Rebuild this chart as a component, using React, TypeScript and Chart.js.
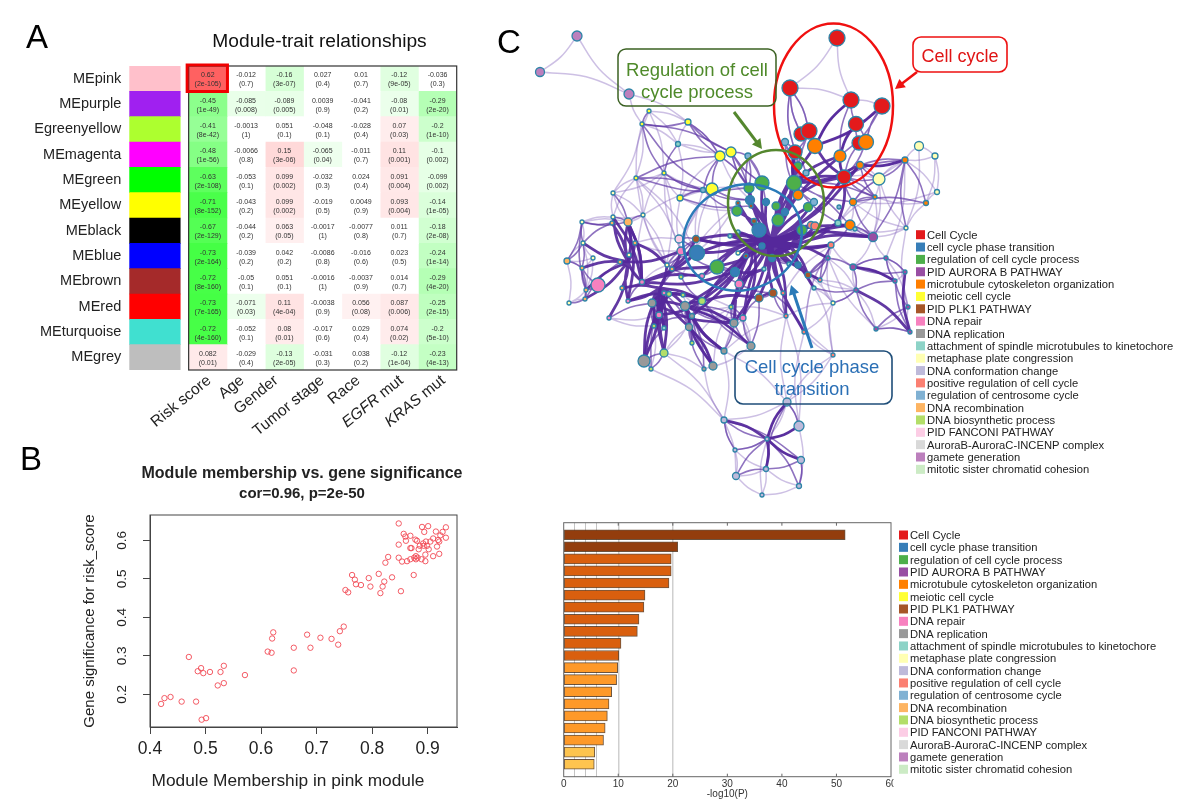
import React, { useEffect, useRef } from "react";
import { Chart, registerables } from "chart.js";

Chart.register(...registerables);

const FONT = '"Liberation Sans", Arial, sans-serif';

// ---------- Panel A data ----------
const modules = ["MEpink", "MEpurple", "Egreenyellow", "MEmagenta", "MEgreen", "MEyellow", "MEblack", "MEblue", "MEbrown", "MEred", "MEturquoise", "MEgrey"];
const moduleColors = ["#ffc0cb", "#a020f0", "#adff2f", "#ff00ff", "#00ff00", "#ffff00", "#000000", "#0000ff", "#a52a2a", "#ff0000", "#40e0d0", "#bebebe"];
const traits = ["Risk score", "Age", "Gender", "Tumor stage", "Race", "EGFR mut", "KRAS mut"];
const corrRows: string[][] = [
  ["0.62", "-0.012", "-0.16", "0.027", "0.01", "-0.12", "-0.036"],
  ["-0.45", "-0.085", "-0.089", "0.0039", "-0.041", "-0.08", "-0.29"],
  ["-0.41", "-0.0013", "0.051", "-0.048", "-0.028", "0.07", "-0.2"],
  ["-0.48", "-0.0066", "0.15", "-0.065", "-0.011", "0.11", "-0.1"],
  ["-0.63", "-0.053", "0.099", "-0.032", "0.024", "0.091", "-0.099"],
  ["-0.71", "-0.043", "0.099", "-0.019", "0.0049", "0.093", "-0.14"],
  ["-0.67", "-0.044", "0.063", "-0.0017", "-0.0077", "0.011", "-0.18"],
  ["-0.73", "-0.039", "0.042", "-0.0086", "-0.016", "0.023", "-0.24"],
  ["-0.72", "-0.05", "0.051", "-0.0016", "-0.0037", "0.014", "-0.29"],
  ["-0.73", "-0.071", "0.11", "-0.0038", "0.056", "0.087", "-0.25"],
  ["-0.72", "-0.052", "0.08", "-0.017", "0.029", "0.074", "-0.2"],
  ["0.082", "-0.029", "-0.13", "-0.031", "0.038", "-0.12", "-0.23"],
];
const pvalRows: string[][] = [
  ["2e-105", "0.7", "3e-07", "0.4", "0.7", "9e-05", "0.3"],
  ["1e-49", "0.008", "0.005", "0.9", "0.2", "0.01", "2e-20"],
  ["8e-42", "1", "0.1", "0.1", "0.4", "0.03", "1e-10"],
  ["1e-56", "0.8", "3e-06", "0.04", "0.7", "0.001", "0.002"],
  ["2e-108", "0.1", "0.002", "0.3", "0.4", "0.004", "0.002"],
  ["8e-152", "0.2", "0.002", "0.5", "0.9", "0.004", "1e-05"],
  ["2e-129", "0.2", "0.05", "1", "0.8", "0.7", "2e-08"],
  ["2e-164", "0.2", "0.2", "0.8", "0.6", "0.5", "1e-14"],
  ["8e-160", "0.1", "0.1", "1", "0.9", "0.7", "4e-20"],
  ["7e-165", "0.03", "4e-04", "0.9", "0.08", "0.006", "2e-15"],
  ["4e-160", "0.1", "0.01", "0.6", "0.4", "0.02", "5e-10"],
  ["0.01", "0.4", "2e-05", "0.3", "0.2", "1e-04", "4e-13"],
];

// ---------- Panel B data ----------
const membership = [0.42,0.426,0.437,0.457,0.483,0.493,0.501,0.47,0.492,0.486,0.496,0.508,0.527,0.533,0.522,0.533,0.571,0.612,0.619,0.62,0.622,0.659,0.659,0.683,0.689,0.707,0.727,0.739,0.742,0.749,0.752,0.757,0.764,0.769,0.771,0.78,0.794,0.797,0.812,0.815,0.819,0.822,0.824,0.829,0.836,0.852,0.875,0.848,0.848,0.848,0.854,0.857,0.86,0.861,0.863,0.869,0.869,0.869,0.871,0.876,0.878,0.879,0.879,0.881,0.882,0.884,0.886,0.889,0.89,0.892,0.893,0.894,0.896,0.896,0.897,0.899,0.901,0.902,0.905,0.91,0.91,0.915,0.917,0.919,0.921,0.921,0.923,0.927,0.933,0.933];
const significance = [0.175,0.19,0.193,0.181,0.181,0.134,0.138,0.297,0.268,0.26,0.255,0.258,0.258,0.274,0.223,0.229,0.25,0.311,0.308,0.345,0.361,0.321,0.262,0.355,0.321,0.347,0.344,0.329,0.364,0.376,0.471,0.465,0.51,0.498,0.486,0.484,0.502,0.48,0.513,0.463,0.48,0.493,0.542,0.557,0.504,0.468,0.51,0.644,0.589,0.555,0.545,0.617,0.61,0.599,0.546,0.612,0.551,0.58,0.58,0.555,0.602,0.559,0.551,0.599,0.555,0.577,0.586,0.551,0.635,0.592,0.586,0.622,0.563,0.546,0.597,0.586,0.637,0.577,0.597,0.605,0.559,0.623,0.584,0.601,0.597,0.565,0.613,0.622,0.634,0.607];

// ---------- Panel C data ----------
const termNames = ["Cell Cycle", "cell cycle phase transition", "regulation of cell cycle process", "PID AURORA B PATHWAY", "microtubule cytoskeleton organization", "meiotic cell cycle", "PID PLK1 PATHWAY", "DNA repair", "DNA replication", "attachment of spindle microtubules to kinetochore", "metaphase plate congression", "DNA conformation change", "positive regulation of cell cycle", "regulation of centrosome cycle", "DNA recombination", "DNA biosynthetic process", "PID FANCONI PATHWAY", "AuroraB-AuroraC-INCENP complex", "gamete generation", "mitotic sister chromatid cohesion"];
const termColors = ["#e31a1c", "#377eb8", "#4daf4a", "#984ea3", "#ff7f00", "#ffff33", "#a65628", "#f781bf", "#999999", "#8dd3c7", "#ffffb3", "#bebada", "#fb8072", "#80b1d3", "#fdb462", "#b3de69", "#fccde5", "#d9d9d9", "#bc80bd", "#ccebc5"];
const barValues = [51.6, 20.9, 19.7, 19.7, 19.3, 14.9, 14.7, 13.8, 13.5, 10.5, 10.1, 9.9, 9.7, 8.8, 8.3, 8.0, 7.6, 7.3, 5.7, 5.6];
const barColors = ["#933d0d", "#933d0d", "#d95f0e", "#d95f0e", "#d95f0e", "#d95f0e", "#d95f0e", "#d95f0e", "#d95f0e", "#d95f0e", "#d95f0e", "#fe9929", "#fe9929", "#fe9929", "#fe9929", "#fe9929", "#fe9929", "#fe9929", "#fec44f", "#fec44f"];

// network layout: [x, y, radius, term]
const nodes: number[][] = [
  [577,36,5,18],[540,72,4.5,18],[629,94,5,18],[837,38,8,0],[790,88,8,0],[851,100,8,0],[882,106,8,0],[856,124,7.5,0],[801,134,7,0],[809,131,8,0],
  [795,152,7,0],[859,143,7,0],[844,177,7,0],[815,146,7.5,4],[866,142,7.5,4],[840,156,6,4],[860,165,3.5,4],[798,195,5,4],[720,156,5,5],[731,152,5,5],
  [712,189,6,5],[688,122,3,5],[680,198,3,5],[649,111,2,5],[642,124,2,5],[678,144,2.5,9],[664,173,2,5],[636,178,2,5],[748,156,3,13],[785,142,3.5,13],
  [703,190,2.5,13],[762,183,7,2],[794,183,7.5,2],[749,188,5,2],[737,211,5,2],[778,220,6,2],[776,206,4,2],[808,207,4.5,2],[802,230,5,2],[798,166,4,2],
  [750,200,4.5,1],[766,202,3.5,1],[785,212,3.5,1],[759,230,7,1],[762,246,3,1],[806,173,3,13],[814,202,3.5,13],[738,203,2,6],[751,206,2,6],[754,221,2.5,6],
  [696,239,3.5,6],[811,225,3.5,12],[815,226,4,12],[679,239,4,16],[838,223,3,9],[850,225,5,4],[853,202,3.5,4],[875,197,2,4],[905,160,3,4],[926,203,2.5,4],
  [879,179,6,10],[919,146,4.5,10],[935,156,3,10],[937,192,2.5,10],[906,228,2,10],[873,237,4.5,3],[831,245,3,12],[828,258,2,3],[853,267,3,3],[886,258,2,3],
  [905,272,2,3],[895,281,2,3],[856,290,2,3],[833,303,2,10],[908,307,2,3],[876,329,2,3],[910,332,2,3],[808,275,3,6],[820,280,2,12],[798,265,3,1],
  [789,264,2,9],[814,288,2,9],[783,293,2,12],[786,316,2,12],[804,332,2,12],[833,355,2,12],[697,253,7.5,1],[717,267,7,2],[735,272,4.5,1],[739,284,4,7],
  [598,285,7,7],[759,298,4,6],[773,293,4,6],[764,269,2,9],[772,258,3.5,1],[567,261,3,14],[582,268,2,14],[593,258,2,10],[586,290,2,14],[585,299,2,14],
  [569,303,2,10],[609,318,2,7],[628,301,2,7],[622,288,2,14],[642,282,2.5,7],[664,293,2,7],[669,294,2.5,15],[683,295,2,15],[702,301,3.5,15],[652,303,4,8],
  [685,306,4.5,8],[659,315,3,7],[692,316,2.5,8],[654,326,2,15],[664,328,2,9],[689,327,3.5,8],[731,307,2,15],[734,323,4,8],[743,318,3,7],[751,346,4,8],
  [724,351,3,8],[692,343,2,15],[664,353,4,15],[644,361,6,8],[651,369,2,15],[704,369,2,8],[713,366,4,8],[787,402,4,11],[799,426,5,11],[724,420,3,11],
  [767,439,2,11],[735,450,2,11],[801,460,3.5,11],[766,469,2.5,11],[736,476,3.5,11],[799,486,2.5,11],[762,495,2,11],[613,193,2,10],[582,222,2,10],[613,217,2,10],
  [612,223,2,14],[628,222,4,14],[643,215,2,10],[583,243,2,10],[635,243,2,14],[629,255,2,10],[620,262,2,14],[667,265,2,10],[672,269,2,14],[681,277,2,15],
  [681,251,4,7],[702,276,2.5,7],[738,253,2,10],[746,256,2,6],[730,236,2,9],[738,232,2,9],[855,229,2,9],[839,207,2,13],
  [771,241,0,1],[755,240,0,1],[790,246,0,1],[660,288,0,1],[628,262,0,1],
];
// each row: first node joined to all the others
const lightStars: number[][] = [
  [0,1,2],[1,2],[2,21,24],[3,4,5],[4,5,8,9,10],[5,6,13],[6,7,14],[21,18,23,25],[23,24,26,27],[24,25,27,137],[25,19,18,22,23],[26,20,27,30,22,142],[27,142,139,137],[137,139,141,142],
  [58,61,62,63,60],[61,62,64],[62,63,59],[60,57,64,65],[63,59,56],[64,59,65,74],[65,68,69,55],[66,67,68,84],[67,72,75,73],[68,69,72,71],[69,70,71,74],[70,71,74,76],[72,75,73],[74,76,75],[73,84,85,83],[75,76],[85,84,127],
  [83,127,128],[84,128],[120,129,127],[125,129,119],[124,129],[122,129,125],[129,127,131,134],[127,128,130,85],[128,135],[130,131,136],[131,134,133],[132,135],[133,136,134,135],[134,136],[135,136],
  [138,143,139,141],[143,95,97,98],[95,96,97,100],[97,96,98],[100,98,99],[142,141,139],[101,111,113],[110,115,121],[112,121,120],[116,119,117,126],[113,123,124],[118,119,120],[104,147,148],[107,117,116],
  [26,150,147,137],[20,150,86,30],[18,40,33,22],[19,31,33],[22,34,33,150],[20,87,142],[47,148,149],[66,82,84],[85,77,82],[73,81],[60,16,12],[58,54,69],[56,55,64],[57,59,156],[156,65,64],
  [27,86,147,150],[142,104,148,147],[144,150,53],[116,117,83],[110,116,118],[121,116,107],[122,115,112],[147,87,149],[30,53,86],[120,116,83],[54,156,57],[72,77,78],[73,77,78],[65,57,54],
];
const midStars: number[][] = [
  [4,8,9,10],[5,7,13,15],[6,7,13,14,15],[7,11,14,15],[9,10,13,17],[10,39,32,17,45],[12,14,16,15,11,57,60,56],[16,58,60],[58,65,59,64],[60,58,56],[55,54,66,65],[56,59,57],[32,46,45,54,55,56,57],[29,10,39,32,17],
  [18,20,21,33,30],[19,28,31,33,40],[28,33,31,40,41],[21,24,18,19],[24,23,19,20,26],[27,33,18,30],[26,25,30],[20,22,40],[30,34,40],[22,48],
  [67,78,77,68,66],[68,71,70,69],[72,71,81,73,68],[69,71,70],[75,76,74,72],[76,71],[74,71],
  [130,134,135,133,127,128,132,131,129],[127,133,128],[129,132,131],[134,133],[132,133,135],
  [123,122,124,114],[115,126,125,121],[117,119,120,118],[110,119,126],[112,125,126],[118,116,91,110],[121,115],[120,115],[113,112],
  [141,138,137,139,142],[138,140,95,98],[143,140,96,138],[96,98,99,90],[98,99,90],[99,100,146],[95,96,143],
  [147,148,150,50,86],[53,86,50],[150,86,88],[87,88,89],[94,77,79,80],[92,91,89],[83,92,82],[84,92],
  [109,101,113,111],[115,112,110,105],[117,108,110,116],[119,108,91,118],[111,105,106],[124,122,105],[108,110,112,149],[151,149,148,87],[104,102,103,146],
  [65,52,56,55],[77,81,78,67],[58,16,12],[57,12,16],[66,77,78],[161,86,50,148],
];
const darkStars: number[][] = [
  [158,31,32,33,34,35,36,37,38,39,40,41,42,43,44,10,15,17,45,46,47,48,49,50,51,54,55,65,86,87,88,89,91,92,93,94,77,78,79,80,81,82,83,84,152,153,154,155,66,67,12,13,16,116,117,118,108],
  [159,43,44,158,50,154,155,87,49,86,88,152,153,108,116,118,117,110,112,89,151],
  [160,158,38,51,52,66,65,55,54,94,79,77,44],
  [161,102,104,105,106,107,108,109,110,111,113,114,115,122,123,103,148,147],
  [162,96,141,144,145,146,140,139,104,103,102,101,143,98,99],
  [106,102,107],[107,108],[108,91],[91,92],[146,150],[148,150,50],[50,158],[141,102,104],[139,104],[144,147],
  [12,13,15,16,32],[5,13],[6,13],[10,32],[17,32,12],[32,15,16],[16,58],[7,15],[54,12],
  [130,133,132,128,127],[129,130],[111,114,113],[110,115,126],[115,126],[110,117,119,120],[112,120],[109,110,117],[76,72],[70,76],[68,71],[93,89,88],
  [123,106,161],[122,105,161],[114,105],[113,105,109],[104,87,88,86,151],[108,110,111],[105,109,111],[141,104,162],
];
const coreStars: number[][] = [
  [158,159,160,43,44,38,94],[159,160,44],[160,44,94],
];
const traitLabelEnds = [212, 245, 279, 325, 361, 404, 446];

function put(ctx: any, text: string, x: number, y: number, font: string, color: string, align = "left", rot = 0) {
  ctx.save();
  ctx.font = font;
  ctx.fillStyle = color;
  ctx.textAlign = align;
  ctx.textBaseline = "alphabetic";
  ctx.translate(x, y);
  if (rot) ctx.rotate(rot);
  ctx.fillText(text, 0, 0);
  ctx.restore();
}

function heatColor(v: number) {
  const a = Math.abs(v);
  if (a < 0.054) return "#ffffff";
  const c = Math.round(255 * (1 - a));
  return v < 0 ? `rgb(${c},255,${c})` : `rgb(255,${c},${c})`;
}

function drawTermLegend(ctx: any, x: number, y0: number, step: number) {
  termNames.forEach((name, i) => {
    const y = y0 + i * step;
    ctx.fillStyle = termColors[i];
    ctx.fillRect(x, y - 4.5, 9, 9);
    put(ctx, name, x + 11, y + 4, `11.2px ${FONT}`, "#222", "left");
  });
}

function arrow(ctx: any, x0: number, y0: number, x1: number, y1: number, color: string, w: number) {
  const ang = Math.atan2(y1 - y0, x1 - x0);
  const h = 11;
  ctx.save();
  ctx.strokeStyle = color;
  ctx.fillStyle = color;
  ctx.lineWidth = w;
  ctx.beginPath();
  ctx.moveTo(x0, y0);
  ctx.lineTo(x1 - Math.cos(ang) * h * 0.7, y1 - Math.sin(ang) * h * 0.7);
  ctx.stroke();
  ctx.beginPath();
  ctx.moveTo(x1, y1);
  ctx.lineTo(x1 - h * Math.cos(ang - 0.5), y1 - h * Math.sin(ang - 0.5));
  ctx.lineTo(x1 - h * Math.cos(ang + 0.5), y1 - h * Math.sin(ang + 0.5));
  ctx.closePath();
  ctx.fill();
  ctx.restore();
}

function roundBox(ctx: any, x: number, y: number, w: number, h: number, color: string, lw: number) {
  ctx.save();
  ctx.strokeStyle = color;
  ctx.lineWidth = lw;
  ctx.beginPath();
  ctx.roundRect(x, y, w, h, 8);
  ctx.stroke();
  ctx.restore();
}

function ring(ctx: any, cx: number, cy: number, rx: number, ry: number, rot: number, color: string, lw: number) {
  ctx.save();
  ctx.strokeStyle = color;
  ctx.lineWidth = lw;
  ctx.beginPath();
  ctx.ellipse(cx, cy, rx, ry, rot, 0, Math.PI * 2);
  ctx.stroke();
  ctx.restore();
}

function edgeDataset(star: number[], color: string, width: number, order: number) {
  const pts: any[] = [];
  const [hub, ...rest] = star;
  rest.forEach((t) => {
    const a = nodes[hub];
    const b = nodes[t];
    const sign = (hub * 3 + t) % 2 === 0 ? 1 : -1;
    const bend = 0.07 * sign;
    pts.push({ x: a[0], y: a[1] });
    pts.push({ x: (a[0] + b[0]) / 2 - (b[1] - a[1]) * bend, y: (a[1] + b[1]) / 2 + (b[0] - a[0]) * bend });
    pts.push({ x: b[0], y: b[1] });
    pts.push({ x: NaN, y: NaN });
  });
  return { data: pts, showLine: true, borderColor: color, borderWidth: width, pointRadius: 0, tension: 0.4, order, spanGaps: false };
}

export default function App() {
  const heatRef = useRef<HTMLCanvasElement>(null);
  const scatterRef = useRef<HTMLCanvasElement>(null);
  const netRef = useRef<HTMLCanvasElement>(null);
  const barRef = useRef<HTMLCanvasElement>(null);

  useEffect(() => {
    document.body.style.margin = "0";
    document.body.style.background = "#fff";
    const charts: Chart[] = [];

    // ---------- A: heat map as stacked horizontal bars ----------
    const heatDatasets: any[] = [
      { label: "module", data: modules.map(() => 1.33), backgroundColor: moduleColors },
      { label: "gap", data: modules.map(() => 0.22), backgroundColor: "rgba(0,0,0,0)" },
      ...traits.map((t, c) => ({
        label: t,
        data: modules.map(() => 1),
        backgroundColor: corrRows.map((r) => heatColor(parseFloat(r[c]))),
      })),
    ];
    charts.push(
      new Chart(heatRef.current!, {
        type: "bar",
        data: { labels: modules, datasets: heatDatasets },
        options: {
          animation: false,
          responsive: false,
          indexAxis: "y",
          layout: { padding: { top: 66, bottom: 80, right: 13.3, left: 0 } },
          datasets: { bar: { barPercentage: 1, categoryPercentage: 1, borderWidth: 0 } },
          plugins: { legend: { display: false }, tooltip: { enabled: false } },
          scales: {
            x: { stacked: true, min: 0, max: 8.55, display: false },
            y: {
              stacked: true,
              grid: { display: false, drawTicks: false },
              border: { display: false },
              afterFit: (s: any) => { s.width = 129.3; },
              ticks: { font: { size: 14.5, family: FONT }, color: "#222", padding: 8, autoSkip: false },
            },
          },
        } as any,
        plugins: [
          {
            id: "heatOverlay",
            afterDatasetsDraw(chart: any) {
              const ctx = chart.ctx;
              const first = chart.getDatasetMeta(2).data;
              const last = chart.getDatasetMeta(8).data;
              traits.forEach((_t, c) => {
                const bars = chart.getDatasetMeta(c + 2).data;
                bars.forEach((bar: any, r: number) => {
                  const cx = bar.base + (bar.x - bar.base) / 2;
                  put(ctx, corrRows[r][c], cx, bar.y - 1.5, `7px ${FONT}`, "#333", "center");
                  put(ctx, `(${pvalRows[r][c]})`, cx, bar.y + 7.5, `7px ${FONT}`, "#333", "center");
                });
              });
              const left = first[0].base;
              const right = last[0].x;
              const { top, bottom } = chart.chartArea;
              ctx.save();
              ctx.strokeStyle = "#333";
              ctx.lineWidth = 1.2;
              ctx.strokeRect(left, top, right - left, bottom - top);
              const b = first[0];
              ctx.strokeStyle = "#f00000";
              ctx.lineWidth = 3;
              ctx.strokeRect(b.base - 1.5, top - 1, b.x - b.base + 2, 26.5);
              ctx.restore();
              // trait labels
              const tilt = -0.68;
              traits.forEach((t, c) => {
                const y = bottom + 12;
                ctx.save();
                ctx.translate(traitLabelEnds[c], y);
                ctx.rotate(tilt);
                ctx.textAlign = "right";
                ctx.textBaseline = "alphabetic";
                ctx.fillStyle = "#222";
                const font = `15.5px ${FONT}`;
                if (t.includes(" mut")) {
                  const tail = " mut";
                  const head = t.replace(tail, "");
                  ctx.font = font;
                  const tw = ctx.measureText(tail).width;
                  ctx.fillText(tail, 0, 0);
                  ctx.font = `italic ${font}`;
                  ctx.fillText(head, -tw, 0);
                } else {
                  ctx.font = font;
                  ctx.fillText(t, 0, 0);
                }
                ctx.restore();
              });
              put(ctx, "Module-trait relationships", 319.5, 47, `19.2px ${FONT}`, "#111", "center");
              put(ctx, "A", 26, 48, `33px ${FONT}`, "#000");
            },
          },
        ],
      })
    );

    // ---------- B: scatter ----------
    charts.push(
      new Chart(scatterRef.current!, {
        type: "scatter",
        data: {
          datasets: [
            {
              label: "pink module",
              data: membership.map((m, i) => ({ x: m, y: significance[i] })),
              pointRadius: 2.7,
              pointBorderWidth: 0.9,
              pointBorderColor: "#f24a55",
              pointBackgroundColor: "rgba(0,0,0,0)",
            },
          ],
        },
        options: {
          animation: false,
          responsive: false,
          layout: { autoPadding: false, padding: { left: 81, top: 75, right: 13, bottom: 0 } },
          plugins: { legend: { display: false }, tooltip: { enabled: false } },
          scales: {
            x: {
              type: "linear",
              min: 0.4,
              max: 0.953,
              afterFit: (s: any) => { s.height = 78; },
              afterBuildTicks: (s: any) => { s.ticks = [0.4, 0.5, 0.6, 0.7, 0.8, 0.9].map((value) => ({ value })); },
              grid: { drawOnChartArea: false, tickLength: 7, color: "#444" },
              border: { color: "#444" },
              ticks: { font: { size: 17.5, family: FONT }, color: "#222", padding: 5, maxRotation: 0, callback: (v: any) => Number(v).toFixed(1) },
            },
            y: {
              min: 0.115,
              max: 0.666,
              afterFit: (s: any) => { s.width = 69; },
              afterBuildTicks: (s: any) => { s.ticks = [0.2, 0.3, 0.4, 0.5, 0.6].map((value) => ({ value })); },
              grid: { drawOnChartArea: false, tickLength: 7, color: "#444" },
              border: { color: "#444" },
              title: { display: true, text: "Gene significance for risk_score", font: { size: 15, family: FONT }, color: "#222", padding: { top: 0, bottom: 0 } },
              ticks: { font: { size: 13.5, family: FONT }, color: "#222", padding: 11, minRotation: 90, maxRotation: 90, crossAlign: "center", callback: (v: any) => Number(v).toFixed(1) },
            },
          },
        } as any,
        plugins: [
          {
            id: "scatterOverlay",
            afterDraw(chart: any) {
              const ctx = chart.ctx;
              const a = chart.chartArea;
              ctx.save();
              ctx.strokeStyle = "#444";
              ctx.lineWidth = 1;
              ctx.strokeRect(a.left, a.top, a.right - a.left, a.bottom - a.top);
              ctx.restore();
              put(ctx, "B", 20, 30, `33px ${FONT}`, "#000");
              put(ctx, "Module membership vs. gene significance", 302, 38, `bold 16px ${FONT}`, "#222", "center");
              put(ctx, "cor=0.96, p=2e-50", 302, 58, `bold 15px ${FONT}`, "#222", "center");
              put(ctx, "Module Membership in pink module", 288, 346, `17.3px ${FONT}`, "#222", "center");
            },
          },
        ],
      })
    );

    // ---------- C: network ----------
    const edgeSets: any[] = [
      ...lightStars.map((s) => edgeDataset(s, "rgba(135,105,190,0.42)", 1.5, 4)),
      ...midStars.map((s) => edgeDataset(s, "rgba(95,55,165,0.7)", 1.6, 3)),
      ...darkStars.map((s) => edgeDataset(s, "rgba(85,40,155,0.92)", 2.8, 2)),
      ...coreStars.map((s) => edgeDataset(s, "rgba(85,40,155,1)", 7, 1)),
    ];
    charts.push(
      new Chart(netRef.current!, {
        type: "scatter",
        data: {
          datasets: [
            {
              label: "terms",
              order: 0,
              data: nodes.map((n) => ({ x: n[0], y: n[1] })),
              pointRadius: nodes.map((n) => n[2]),
              pointBorderWidth: nodes.map((n) => (n[2] > 0 ? 1.3 : 0)),
              pointBackgroundColor: nodes.map((n) => termColors[n[3]]),
              pointBorderColor: "#2e85a8",
            },
            ...edgeSets,
          ],
        },
        options: {
          animation: false,
          responsive: false,
          plugins: { legend: { display: false }, tooltip: { enabled: false } },
          layout: { autoPadding: false, padding: 0 },
          scales: {
            x: { type: "linear", min: 490, max: 1200, display: false },
            y: { type: "linear", min: 0, max: 510, reverse: true, display: false },
          },
        } as any,
        plugins: [
          {
            id: "netOverlay",
            afterDatasetsDraw(chart: any) {
              const ctx = chart.ctx;
              const X = (v: number) => chart.scales.x.getPixelForValue(v);
              const Y = (v: number) => chart.scales.y.getPixelForValue(v);
              ring(ctx, X(833.5), Y(105.5), 59.5, 82, 0, "#f01010", 2.5);
              ring(ctx, X(776), Y(203), 48, 53, 0, "#54872e", 2.5);
              ring(ctx, X(742.5), Y(237.5), 60, 52, -0.35, "#2a7ab8", 2.5);
              roundBox(ctx, X(618), Y(49), 158, 57, "#3b6122", 1.5);
              put(ctx, "Regulation of cell", X(697), Y(76), `18.5px ${FONT}`, "#4f8a2a", "center");
              put(ctx, "cycle process", X(697), Y(98), `18.5px ${FONT}`, "#4f8a2a", "center");
              roundBox(ctx, X(913), Y(37), 94, 35, "#ee1111", 1.6);
              put(ctx, "Cell cycle", X(960), Y(62), `18px ${FONT}`, "#e01515", "center");
              arrow(ctx, X(917), Y(72), X(895), Y(89), "#ee1111", 2.5);
              arrow(ctx, X(734), Y(112), X(762), Y(149), "#54872e", 3);
              arrow(ctx, X(812), Y(348), X(791), Y(285), "#2a7ab8", 3);
              roundBox(ctx, X(735), Y(351), 157, 53, "#1f4e79", 1.6);
              put(ctx, "Cell cycle phase", X(812), Y(373), `18.5px ${FONT}`, "#2a6fb5", "center");
              put(ctx, "transition", X(812), Y(395), `18.5px ${FONT}`, "#2a6fb5", "center");
              put(ctx, "C", X(497), Y(53), `33px ${FONT}`, "#000");
              drawTermLegend(ctx, X(916), Y(234.7), 12.35);
            },
          },
        ],
      })
    );

    // ---------- C: enrichment bars ----------
    charts.push(
      new Chart(barRef.current!, {
        type: "bar",
        data: {
          datasets: [
            {
              label: "-log10(P)",
              data: barValues.map((v, i) => ({ x: v, y: i })),
              backgroundColor: barColors,
              borderColor: "rgba(70,40,15,0.8)",
              borderWidth: 1,
              borderSkipped: false,
              barThickness: 10,
            },
          ],
        },
        options: {
          animation: false,
          responsive: false,
          indexAxis: "y",
          layout: { padding: { left: 13.7, right: 309, top: 7.7, bottom: 0 } },
          plugins: { legend: { display: false }, tooltip: { enabled: false } },
          scales: {
            y: { type: "linear", reverse: true, offset: false, min: -0.994, max: 20.03, display: false },
            x: {
              type: "linear",
              min: 0,
              max: 60,
              afterFit: (s: any) => { s.height = 28.3; },
              afterBuildTicks: (s: any) => { s.ticks = [0, 2, 4, 6, 10, 20, 30, 40, 50, 60].map((value) => ({ value })); },
              grid: {
                drawTicks: false,
                color: (c: any) => {
                  const v = c.tick && c.tick.value;
                  if (v === 10 || v === 20) return "#cfcfcf";
                  if (v === 2 || v === 4 || v === 6) return "#c4c4c4";
                  return "rgba(0,0,0,0)";
                },
                lineWidth: (c: any) => (c.tick && (c.tick.value === 10 || c.tick.value === 20) ? 1.5 : 1),
              },
              border: { display: false },
              title: { display: true, text: "-log10(P)", font: { size: 10, family: FONT }, color: "#333", padding: { top: 0, bottom: 5 } },
              ticks: {
                font: { size: 10, family: FONT },
                color: "#333",
                padding: 2,
                maxRotation: 0,
                autoSkip: false,
                callback: (v: any) => (Number(v) % 10 === 0 ? String(v) : ""),
              },
            },
          },
        } as any,
        plugins: [
          {
            id: "barOverlay",
            afterDraw(chart: any) {
              const ctx = chart.ctx;
              const a = chart.chartArea;
              ctx.save();
              ctx.fillStyle = "#fff";
              ctx.fillRect(a.right + 2.5, a.bottom + 1, 20, 20);
              ctx.strokeStyle = "#666";
              ctx.lineWidth = 1;
              ctx.strokeRect(a.left, a.top, a.right - a.left, a.bottom - a.top);
              [10, 20, 30, 40, 50].forEach((v) => {
                const x = chart.scales.x.getPixelForValue(v);
                ctx.beginPath();
                ctx.moveTo(x, a.top);
                ctx.lineTo(x, a.top + 3);
                ctx.moveTo(x, a.bottom);
                ctx.lineTo(x, a.bottom - 3);
                ctx.stroke();
              });
              ctx.restore();
              drawTermLegend(ctx, 899 - 550, 535 - 515, 12.33);
            },
          },
        ],
      })
    );

    return () => charts.forEach((c) => c.destroy());
  }, []);

  const pos = (left: number, top: number): React.CSSProperties => ({ position: "absolute", left, top });
  return (
    <div style={{ position: "fixed", left: 0, top: 0, width: 1200, height: 805, overflow: "hidden", background: "#fff" }}>
      <canvas ref={netRef} width={710} height={510} style={pos(490, 0)} />
      <canvas ref={heatRef} width={470} height={450} style={pos(0, 0)} />
      <canvas ref={scatterRef} width={470} height={365} style={pos(0, 440)} />
      <canvas ref={barRef} width={650} height={290} style={pos(550, 515)} />
    </div>
  );
}
